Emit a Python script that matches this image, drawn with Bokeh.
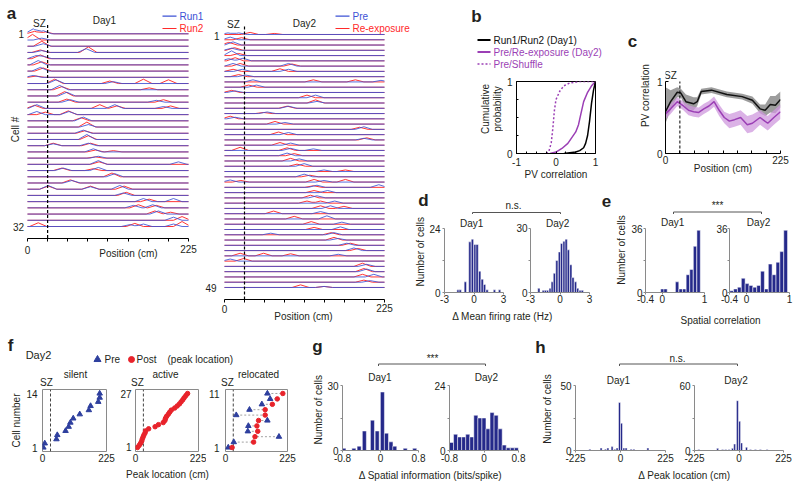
import math
from bokeh.plotting import figure
from bokeh.layouts import row, column
from bokeh.models import Range1d, Label, FixedTicker, LinearAxis, NumeralTickFormatter
from bokeh.embed import file_html
from bokeh.resources import INLINE

FONT = "Liberation Sans"
TXT = "#231f20"
BLUE_T = "#3d52d5"
RED_T = "#ff2a2a"
NAVY = "#25298a"
PURPLE = "#9b3fb5"
PURPLE_BAND = "#cf98de"
GREY_BAND = "#8c8c8c"
AX_GREY = "#8a8a8a"
BLUE_M = "#2e3f9e"
RED_M = "#e8232b"

# ---------------- data ----------------
SZ_POS = 28.125
POS_TICKS = [0, 28.125, 56.25, 84.375, 112.5, 140.625, 168.75, 196.875, 225]
POS_MINOR = [28.125, 56.25, 84.375, 112.5, 140.625, 168.75, 196.875]

# panel a: place-field peaks (position cm, height in row units) per cell
a1_run1 = [
    [(8, 0.8), (22, 0.5)], [(20, 0.3)], [(22, 0.4)], [(20, 0.3), (82, 0.6)],
    [(12, 0.5), (22, 0.4)], [(15, 0.7)], [(18, 0.6)], [(8, 0.3)],
    [(40, 0.6), (120, 0.3)], [(45, 0.7)], [(55, 0.6)], [(60, 0.4), (180, 0.3)],
    [(13, 0.6), (122, 0.6), (190, 0.3)], [(13, 0.5), (58, 0.5)], [(78, 0.6)], [(85, 0.4)],
    [(78, 0.5)], [(83, 0.8)], [(36, 0.3), (85, 0.4)], [(92, 0.5)],
    [(99, 0.3)], [(99, 0.6), (211, 0.4)], [(50, 0.4), (99, 0.5)], [(122, 0.5)],
    [(62, 0.4)], [(29, 0.6), (88, 0.4), (129, 0.6)], [(134, 0.4)], [(162, 0.5), (204, 0.5)],
    [(148, 0.4), (175, 0.5)], [(183, 0.5)], [(204, 0.5)], [(143, 0.3), (162, 0.4), (204, 0.4)],
]
a1_run2 = [
    [(10, 0.4), (25, 0.3)], [(7, 0.9)], [(20, 0.8)], [(18, 0.4), (85, 0.9)],
    [(18, 0.6)], [(20, 0.5)], [(22, 0.5)], [(12, 0.2)],
    [(38, 0.7), (115, 0.4), (162, 0.7), (197, 0.6)], [(48, 0.5), (170, 0.3)], [(52, 0.7)], [(55, 0.5), (190, 0.4)],
    [(10, 0.5), (101, 0.6), (125, 0.4), (200, 0.4)], [(25, 0.4), (57, 0.6)], [(75, 0.5)], [(83, 0.8)],
    [(80, 0.4)], [(85, 0.6)], [(36, 0.4), (88, 0.4)], [(95, 0.3), (120, 0.2)],
    [(95, 0.2)], [(100, 0.4)], [(48, 0.4), (92, 0.3)], [(118, 0.6)],
    [(60, 0.5)], [(29, 0.5), (88, 0.5), (135, 0.5)], [(138, 0.5)], [(170, 0.4)],
    [(155, 0.5), (180, 0.4)], [(178, 0.5), (200, 0.3)], [(216, 0.6)], [(15, 0.6), (150, 0.5), (216, 0.8)],
]
a2_pre = [
    [(5, 0.3), (20, 0.3)], [(8, 0.5)], [(12, 0.6)], [(10, 0.4)], [(10, 0.9)], [(6, 0.4), (26, 0.5)],
    [(12, 0.5), (90, 0.5)], [(25, 0.4), (90, 0.4)], [(30, 0.3)], [(40, 0.4), (220, 0.3)], [(45, 0.4)],
    [(15, 0.3)], [(128, 0.5)], [(130, 0.3)], [(90, 0.4)], [(60, 0.3)], [(15, 0.3)], [(85, 0.3)],
    [(196, 0.5)], [(90, 0.4)], [(196, 0.3)], [(93, 0.4)], [(93, 0.4), (125, 0.3)], [(88, 0.5)],
    [(105, 0.4)], [(112, 0.5)], [(140, 0.3)], [(112, 0.5)], [(8, 0.4), (140, 0.3)], [(130, 0.4), (217, 0.5)],
    [(145, 0.4)], [(130, 0.4)], [(155, 0.4)], [(149, 0.5)], [(135, 0.4)], [(144, 0.6)], [(165, 0.4)],
    [(163, 0.5)], [(65, 0.3), (154, 0.4)], [(160, 0.3)], [(172, 0.4)], [(182, 0.5)], [(160, 0.3)],
    [(8, 0.4)], [(200, 0.4)], [(200, 0.5)], [(210, 0.5)], [(205, 0.3)], [(140, 0.2)],
]
a2_reexp = [
    [(36, 0.4), (70, 0.2)], [(24, 0.4)], [(6, 0.5)], [(14, 0.5)], [(20, 0.4)], [(15, 0.6)],
    [(22, 0.5), (95, 0.4)], [(12, 0.4), (78, 0.5)], [(20, 0.4)], [(125, 0.4), (184, 0.4)], [(34, 0.4)],
    [(10, 0.4)], [(116, 0.5)], [(128, 0.6)], [(88, 0.4)], [(55, 0.2)], [(8, 0.5)], [(71, 0.5)],
    [(190, 0.4)], [(76, 0.5)], [(200, 0.4)], [(78, 0.5)], [(22, 0.6), (88, 0.5)], [(98, 0.4)],
    [(93, 0.5)], [(102, 0.4)], [(170, 0.3)], [(120, 0.3)], [(23, 0.3), (126, 0.5), (170, 0.5)], [(125, 0.3)],
    [(126, 0.4)], [(121, 0.5)], [(116, 0.4), (135, 0.4)], [(135, 0.5), (168, 0.4)], [(69, 0.5)], [(98, 0.5)],
    [(122, 0.5)], [(126, 0.4)], [(150, 0.4)], [(154, 0.5)], [(177, 0.4)], [(188, 0.4)],
    [(22, 0.5), (55, 0.5), (93, 0.4)], [(27, 0.5)], [(194, 0.6)], [(196, 0.6)], [(194, 0.5)], [(196, 0.4)],
    [(107, 0.5), (140, 0.2)],
]

# panel b: cumulative distributions of PV correlation
b_day1_x = [0.2, 0.35, 0.5, 0.6, 0.7, 0.75, 0.8, 0.85, 0.9, 0.95, 1.0]
b_day1_y = [0, 0.01, 0.02, 0.04, 0.08, 0.14, 0.25, 0.45, 0.7, 0.88, 1.0]
b_day2_x = [-0.15, 0.0, 0.15, 0.3, 0.4, 0.5, 0.57, 0.63, 0.7, 0.8, 0.9, 1.0]
b_day2_y = [0, 0.02, 0.07, 0.14, 0.22, 0.3, 0.4, 0.55, 0.72, 0.85, 0.94, 1.0]
b_shuf_x = [-0.25, -0.18, -0.12, -0.08, -0.04, 0.0, 0.1, 0.2, 0.35, 0.6, 1.0]
b_shuf_y = [0, 0.03, 0.15, 0.35, 0.6, 0.75, 0.87, 0.94, 0.98, 1.0, 1.0]

# panel c: PV correlation along the track
c_day1_x = [0, 10, 23, 30, 40, 55, 62, 70, 90, 120, 150, 170, 185, 195, 205, 215, 225]
c_day1_y = [0.58, 0.72, 0.85, 0.84, 0.72, 0.69, 0.72, 0.86, 0.88, 0.82, 0.79, 0.74, 0.62, 0.6, 0.68, 0.67, 0.75]
c_day1_lo = [0.42, 0.6, 0.78, 0.78, 0.62, 0.6, 0.66, 0.82, 0.84, 0.78, 0.75, 0.69, 0.56, 0.52, 0.57, 0.56, 0.64]
c_day1_hi = [0.92, 0.88, 0.92, 0.9, 0.82, 0.78, 0.78, 0.9, 0.92, 0.86, 0.83, 0.79, 0.68, 0.68, 0.8, 0.8, 0.86]
c_day2_x = [0, 10, 23, 35, 45, 55, 65, 75, 85, 95, 105, 115, 125, 135, 147, 160, 170, 185, 200, 212, 225]
c_day2_y = [0.55, 0.62, 0.72, 0.66, 0.6, 0.58, 0.57, 0.62, 0.66, 0.72, 0.6, 0.5, 0.45, 0.47, 0.5, 0.4, 0.42, 0.5, 0.42, 0.5, 0.58]
c_day2_lo = [0.48, 0.55, 0.66, 0.6, 0.53, 0.51, 0.5, 0.55, 0.59, 0.65, 0.52, 0.42, 0.35, 0.37, 0.4, 0.28, 0.3, 0.4, 0.32, 0.4, 0.48]
c_day2_hi = [0.62, 0.69, 0.78, 0.72, 0.67, 0.65, 0.64, 0.69, 0.73, 0.79, 0.68, 0.58, 0.55, 0.57, 0.6, 0.52, 0.54, 0.6, 0.52, 0.6, 0.68]

# panel d: delta mean firing rate histograms
d1_x = [-1.62, -1.4, -0.88, -0.42, -0.16, 0.1, 0.32, 0.58, 0.84, 1.07, 1.33, 2.08, 2.6]
d1_n = [1, 1, 4, 19, 20, 18, 18, 8, 5, 3, 1, 1, 1]
d2_x = [-2.15, -1.7, -1.48, -1.26, -1.0, -0.79, -0.57, -0.32, -0.06, 0.16, 0.41, 0.63, 0.85, 1.1, 1.32, 1.58, 1.8, 2.05, 2.27]
d2_n = [2, 1, 1, 1, 2, 5, 9, 15, 19, 23, 24, 25, 20, 13, 7, 5, 2, 1, 1]

# panel e: spatial correlation histograms
e1_x = [0.0, 0.075, 0.35, 0.435, 0.52, 0.605, 0.69, 0.775, 0.86]
e1_n = [2, 2, 6, 2, 2, 10, 13, 26, 35]
e2_x = [-0.35, -0.26, -0.17, -0.08, 0.01, 0.1, 0.19, 0.28, 0.37, 0.46, 0.55, 0.64, 0.73, 0.82, 0.91]
e2_n = [1, 2, 3, 8, 5, 4, 3, 4, 12, 2, 16, 10, 17, 23, 35]

# panel f: peak locations (cm)
f_silent_pre = [3, 8, 49, 52, 81, 92, 98, 108, 131, 163, 169, 196, 201, 201]
f_active_post = [7, 13, 18, 22, 24, 27, 30, 34, 36, 47, 70, 82, 99, 105, 107, 111, 117, 122, 128,
                 140, 149, 157, 163, 169, 174, 180, 186]
f_reloc_pre = [10, 30, 194, 81, 83, 152, 39, 87, 132, 162, 152]
f_reloc_post = [24, 102, 107, 117, 114, 120, 144, 144, 170, 188, 208]

# panel g: delta spatial information histograms
g1_x = [-0.77, -0.56, -0.45, -0.34, -0.17, -0.07, 0.04, 0.125, 0.22, 0.3, 0.52, 0.72]
g1_n = [1, 1, 2, 9, 14, 9, 27, 8, 4, 2, 1, 1]
g2_x = [-0.753, -0.659, -0.565, -0.471, -0.377, -0.283, -0.189, -0.095, -0.001, 0.093, 0.187,
        0.281, 0.375, 0.469, 0.563, 0.657, 0.751]
g2_n = [3, 6, 5, 5, 6, 5, 13, 12, 12, 8, 14, 13, 8, 2, 1, 1, 1]

# panel h: delta peak location histograms
h1_x = [-153, -97, -75, -63, -42, -28, -17, -5, 5, 17, 28, 53, 67, 137]
h1_n = [1, 2, 1, 2, 3, 1, 2, 37, 21, 2, 2, 1, 1, 2]
h2_x = [-203, -108, -83, -67, -50, -33, -22, -8, 3, 13, 38, 58, 83, 108, 142]
h2_n = [1, 2, 1, 1, 1, 2, 6, 46, 27, 7, 3, 1, 1, 1, 1]


# ---------------- helpers ----------------
class Pan:
    """A figure placed at page pixel box (cx, cy, W, H) whose plot frame is `frame`."""

    def __init__(self, cx, cy, W, H, frame=None, xr=None, yr=None, outline=None):
        if frame is None:
            frame = (cx, cy, cx + W, cy + H)
        if xr is None:
            xr = (frame[0], frame[2])
        if yr is None:
            yr = (frame[3], frame[1])
        self.frame, self.xr, self.yr = frame, xr, yr
        fl, ft, fr, fb = frame
        f = figure(width=W, height=H, output_backend="svg", toolbar_location=None,
                   x_range=Range1d(*xr), y_range=Range1d(*yr),
                   x_axis_location=None, y_axis_location=None,
                   min_border_left=fl - cx, min_border_right=cx + W - fr,
                   min_border_top=ft - cy, min_border_bottom=cy + H - fb)
        f.xgrid.visible = False
        f.ygrid.visible = False
        f.outline_line_color = outline
        f.border_fill_color = "white"
        f.background_fill_color = "white"
        self.f = f

    def X(self, px):
        fl, ft, fr, fb = self.frame
        return self.xr[0] + (px - fl) / (fr - fl) * (self.xr[1] - self.xr[0])

    def Y(self, py):
        fl, ft, fr, fb = self.frame
        return self.yr[0] + (fb - py) / (fb - ft) * (self.yr[1] - self.yr[0])

    def text(self, px, py, s, size=10, color=TXT, align="center", bold=False, angle=0.0):
        self.f.add_layout(Label(x=self.X(px), y=self.Y(py), text=s, text_font=FONT,
                                text_font_size=f"{size}px", text_color=color, text_align=align,
                                text_baseline="middle",
                                text_font_style="bold" if bold else "normal", angle=angle))

    def axis(self, side, major, minor=(), color="black", tin=0, tout=3, standoff=2, line=True,
             bounds=None, title=None, title_standoff=2):
        ax = LinearAxis(ticker=FixedTicker(ticks=list(major), minor_ticks=list(minor)))
        ax.formatter = NumeralTickFormatter(format="0.[00]")
        if bounds is not None:
            ax.bounds = bounds
        ax.axis_line_color = color if line else None
        ax.axis_line_width = 1
        if tin == 0 and tout == 0:
            ax.major_tick_line_color = None
            ax.minor_tick_line_color = None
        else:
            ax.major_tick_line_color = color
            ax.minor_tick_line_color = color
        ax.major_tick_in = tin
        ax.major_tick_out = tout
        ax.minor_tick_in = tin
        ax.minor_tick_out = tout
        ax.major_label_standoff = standoff
        ax.major_label_text_font = FONT
        ax.major_label_text_font_size = "10px"
        ax.major_label_text_color = TXT
        if title:
            ax.axis_label = title
            ax.axis_label_standoff = title_standoff
            ax.axis_label_text_font = FONT
            ax.axis_label_text_font_size = "10px"
            ax.axis_label_text_font_style = "normal"
            ax.axis_label_text_color = TXT
        self.f.add_layout(ax, side)
        return ax


def trace(bumps, r, w=12.0):
    xs = {0.0, 225.0}
    for c, h in bumps:
        xs.update([max(0.0, c - w), float(c), min(225.0, c + w)])
    xs = sorted(xs)
    ys = []
    for x in xs:
        v = 0.0
        for c, h in bumps:
            v = max(v, h * max(0.0, 1 - abs(x - c) / w))
        ys.append(r - v)
    return xs, ys


def traces_panel(P, blue, red):
    bx, by, rx, ry = [], [], [], []
    for i, bumps in enumerate(red):
        x, y = trace(bumps, i + 1)
        rx.append(x); ry.append(y)
    for i, bumps in enumerate(blue):
        x, y = trace(bumps, i + 1)
        bx.append(x); by.append(y)
    P.f.multi_line(xs=rx, ys=ry, line_color=RED_T, line_width=1, line_alpha=0.95)
    P.f.multi_line(xs=bx, ys=by, line_color=BLUE_T, line_width=1, line_alpha=0.85)


def hist(P, centers, counts, width):
    P.f.vbar(x=centers, width=width, top=counts, bottom=0, fill_color=NAVY,
             line_color="white", line_width=0.5)


# ---------------- panel a ----------------
A1 = Pan(0, 0, 204, 242, frame=(0, 0, 204, 238), xr=(-37.73, 247.36), yr=(33.93, -4.357))
traces_panel(A1, a1_run1, a1_run2)
A1.f.line([SZ_POS, SZ_POS], [-0.4, 33.93], line_color="black", line_width=1.2, line_dash="3 2")
A1.axis("below", [], POS_TICKS, tout=3, standoff=0, bounds=(0, 225))
A1.f.line([A1.X(162), A1.X(176)], [A1.Y(15.7), A1.Y(15.7)], line_color=BLUE_T, line_width=1.2)
A1.f.line([A1.X(162), A1.X(176)], [A1.Y(28), A1.Y(28)], line_color=RED_T, line_width=1.2)
A1.text(179, 15.7, "Run1", color=BLUE_T, align="left")
A1.text(179, 28, "Run2", color=RED_T, align="left")
A1.text(11, 12.5, "a", size=17, bold=True)
A1.text(39, 23, "SZ")
A1.text(104, 20, "Day1")
A1.text(23.5, 33.3, "1", align="right")
A1.text(23.5, 226, "32", align="right")
A1.text(15, 129, "Cell #", angle=math.pi / 2)

A1F = Pan(0, 242, 204, 84)
A1F.text(27, 249, "0")
A1F.text(188, 248, "225")
A1F.text(128, 253, "Position (cm)")

A2 = Pan(204, 0, 209, 303, frame=(204, 0, 413, 299), xr=(-28.125, 265.78), yr=(51.28, -5.45))
traces_panel(A2, a2_pre, a2_reexp)
A2.f.line([SZ_POS, SZ_POS], [-0.5, 51.28], line_color="black", line_width=1.2, line_dash="3 2")
A2.axis("below", [], POS_TICKS, tout=3, standoff=0, bounds=(0, 225))
A2.f.line([A2.X(335), A2.X(349)], [A2.Y(15.7), A2.Y(15.7)], line_color=BLUE_T, line_width=1.2)
A2.f.line([A2.X(335), A2.X(349)], [A2.Y(28), A2.Y(28)], line_color=RED_T, line_width=1.2)
A2.text(352, 15.7, "Pre", color=BLUE_T, align="left")
A2.text(352, 28, "Re-exposure", color=RED_T, align="left")
A2.text(233, 24, "SZ")
A2.text(304, 23, "Day2")
A2.text(219, 35, "1", align="right")
A2.text(216, 287, "49", align="right")

A2F = Pan(204, 303, 209, 23)
A2F.text(224, 308, "0")
A2F.text(384, 307, "225")
A2F.text(303, 316, "Position (cm)")

# ---------------- panel b ----------------
Btop = Pan(413, 0, 197, 75)
Btop.text(476, 16, "b", size=17, bold=True)
Btop.f.line([477, 490], [39.5, 39.5], line_color="black", line_width=2)
Btop.f.line([477, 490], [51.5, 51.5], line_color=PURPLE, line_width=2)
Btop.f.line([477, 490], [63.5, 63.5], line_color=PURPLE, line_width=1.6, line_dash="2 2")
Btop.text(493, 39.5, "Run1/Run2 (Day1)", align="left", color="#111111")
Btop.text(493, 51.5, "Pre/Re-exposure (Day2)", align="left", color=PURPLE)
Btop.text(493, 63.5, "Pre/Shuffle", align="left", color=PURPLE)

Bleft = Pan(413, 75, 90, 110)
Bleft.text(485, 117, "Cumulative", angle=math.pi / 2)
Bleft.text(497, 117, "probability", angle=math.pi / 2)

Bb = Pan(503, 75, 107, 110, frame=(515, 81, 595, 153), xr=(-1, 1), yr=(0, 1), outline="black")
Bb.f.line(b_shuf_x, b_shuf_y, line_color=PURPLE, line_width=1.5, line_dash="2 2")
Bb.f.line(b_day2_x, b_day2_y, line_color=PURPLE, line_width=1.5)
Bb.f.line(b_day1_x, b_day1_y, line_color="black", line_width=1.5)
Bb.axis("below", [-1, 0, 1], [-0.75, -0.5, -0.25, 0.25, 0.5, 0.75], tin=2, tout=0, standoff=4,
        title="PV correlation", title_standoff=0)
Bb.axis("left", [0, 1], [0.25, 0.5, 0.75], tin=2, tout=0, standoff=4)

# ---------------- panel c ----------------
Cleft = Pan(610, 0, 42, 185)
Cleft.text(632, 49, "c", size=17, bold=True)
Cleft.text(645, 115, "PV correlation", angle=math.pi / 2)

C = Pan(652, 0, 146, 185, frame=(665, 0, 780, 153), xr=(0, 225), yr=(0, 2.125))
C.f.varea(x=c_day1_x, y1=c_day1_lo, y2=c_day1_hi, fill_color=GREY_BAND, fill_alpha=0.85)
C.f.varea(x=c_day2_x, y1=c_day2_lo, y2=c_day2_hi, fill_color=PURPLE_BAND, fill_alpha=0.75)
C.f.line(c_day1_x, c_day1_y, line_color="#111111", line_width=1.5)
C.f.line(c_day2_x, c_day2_y, line_color=PURPLE, line_width=1.5)
C.f.line([SZ_POS, SZ_POS], [0, 1], line_color="black", line_width=1, line_dash="3 2")
C.axis("below", [0, 225], POS_MINOR, tin=3, tout=0, standoff=2,
       title="Position (cm)", title_standoff=-4)
C.axis("left", [0, 1], tin=3, tout=0, standoff=3, bounds=(0, 1))
C.text(670, 75, "SZ")

# ---------------- panels d / e ----------------
HDE = Pan(413, 185, 385, 29)
HDE.text(423, 200, "d", size=17, bold=True)
HDE.text(513, 205, "n.s.")
HDE.f.line([472, 472, 560, 560], [215, 212, 212, 215], line_color="#555555", line_width=1)
HDE.text(606, 200, "e", size=17, bold=True)
HDE.text(717, 205, "***")
HDE.f.line([673, 673, 761, 761], [215, 211.5, 211.5, 215], line_color="#555555", line_width=1)

Ds = Pan(413, 214, 13, 92)
Ds.text(420, 258, "Number of cells", angle=math.pi / 2)

D1 = Pan(426, 214, 87, 92, frame=(442, 214, 503, 292), xr=(-3, 3), yr=(0, 29.25))
hist(D1, d1_x, d1_n, 0.24)
D1.axis("left", [0, 24], [12], color=AX_GREY, tout=2, standoff=2, bounds=(0, 24))
D1.axis("below", [-3, 0, 3], color=AX_GREY, tout=2, standoff=0)
D1.text(470, 223, "Day1")

D2 = Pan(513, 214, 101, 92, frame=(528, 214, 589, 292), xr=(-3, 3), yr=(0, 36.56))
hist(D2, d2_x, d2_n, 0.23)
D2.axis("left", [0, 30], [15], color=AX_GREY, tout=2, standoff=1, bounds=(0, 30))
D2.axis("below", [-3, 0, 3], color=AX_GREY, tout=2, standoff=0)
D2.text(556, 223, "Day2")

Es = Pan(614, 214, 14, 92)
Es.text(621, 256, "Number of cells", angle=math.pi / 2)

E1 = Pan(628, 214, 85, 92, frame=(643, 214, 704, 292), xr=(-0.4, 1), yr=(0, 43.875))
hist(E1, e1_x, e1_n, 0.08)
E1.axis("left", [0, 36], [18], color=AX_GREY, tout=2, standoff=1, bounds=(0, 36))
E1.axis("below", [-0.4, 0, 1], color=AX_GREY, tout=2, standoff=0)
E1.text(671, 222, "Day1")

E2 = Pan(713, 214, 85, 92, frame=(727, 214, 789, 292), xr=(-0.4, 1), yr=(0, 43.875))
hist(E2, e2_x, e2_n, 0.088)
E2.axis("left", [0, 36], [18], color=AX_GREY, tout=2, standoff=0, bounds=(0, 36))
E2.axis("below", [-0.4, 0, 1], color=AX_GREY, tout=2, standoff=0)
E2.text(757, 222, "Day2")

FDE = Pan(413, 306, 385, 20)
FDE.text(502, 316, "\u0394 Mean firing rate (Hz)")
FDE.text(720, 320, "Spatial correlation")

# ---------------- panel f ----------------
HF = Pan(0, 326, 312, 62)
HF.text(10, 345, "f", size=17, bold=True)
HF.text(38, 354, "Day2", size=11)
HF.f.scatter([97], [359], marker="triangle", size=7, color=BLUE_M)
HF.text(104, 359, "Pre", align="left")
HF.f.scatter([131], [359], marker="circle", size=6, color=RED_M)
HF.text(136, 359, "Post", align="left")
HF.text(167, 359, "(peak location)", align="left")
HF.text(75, 374, "silent")
HF.text(165, 374, "active")
HF.text(258, 374, "relocated")
HF.text(46, 382, "SZ")
HF.text(137, 382, "SZ")
HF.text(227, 382, "SZ")

F1 = Pan(0, 388, 117, 77, frame=(42, 389, 106, 451), xr=(0, 225), yr=(0.04, 14.96), outline=AX_GREY)
F1.f.line([SZ_POS, SZ_POS], [0.04, 14.96], line_color="#444444", line_width=1, line_dash="3 2")
F1.f.scatter(f_silent_pre, list(range(1, len(f_silent_pre) + 1)), marker="triangle", size=5.5, color=BLUE_M)
F1.axis("below", [0, 225], tout=0, standoff=2, line=False)
F1.axis("left", [1, 14], tout=0, standoff=5, line=False, title="Cell number", title_standoff=1)

F2 = Pan(117, 388, 89, 77, frame=(133, 389, 198, 451), xr=(0, 225), yr=(-0.93, 28.93), outline=AX_GREY)
F2.f.line([SZ_POS, SZ_POS], [-0.93, 28.93], line_color="#444444", line_width=1, line_dash="3 2")
F2.f.scatter(f_active_post, list(range(1, len(f_active_post) + 1)), marker="circle", size=4.5, color=RED_M)
F2.axis("below", [0, 225], tout=0, standoff=2, line=False)
F2.axis("left", [1, 27], tout=0, standoff=4, line=False)

F3 = Pan(206, 388, 106, 77, frame=(224, 389, 287, 451), xr=(0, 225), yr=(0.26, 11.74), outline=AX_GREY)
F3.f.line([SZ_POS, SZ_POS], [0.26, 11.74], line_color="#444444", line_width=1, line_dash="3 2")
rows_r = list(range(1, len(f_reloc_pre) + 1))
F3.f.segment(x0=f_reloc_pre, y0=rows_r, x1=f_reloc_post, y1=rows_r, line_color="#8a8a8a",
             line_width=0.8, line_dash="2 2")
F3.f.scatter(f_reloc_pre, rows_r, marker="triangle", size=5.5, color=BLUE_M)
F3.f.scatter(f_reloc_post, rows_r, marker="circle", size=4.5, color=RED_M)
F3.axis("below", [0, 225], tout=0, standoff=2, line=False)
F3.axis("left", [1, 11], tout=0, standoff=6, line=False)

# ---------------- panels g / h ----------------
HGH = Pan(312, 326, 486, 40)
HGH.text(317, 346, "g", size=17, bold=True)
HGH.text(432, 358, "***")
HGH.f.line([378, 378, 485, 485], [367, 363.5, 363.5, 367], line_color="#555555", line_width=1)
HGH.text(540, 347, "h", size=17, bold=True)
HGH.text(677, 358, "n.s.")
HGH.f.line([619, 619, 737, 737], [367, 363.5, 363.5, 367], line_color="#555555", line_width=1)

Gs = Pan(312, 366, 12, 99)
Gs.text(318, 417, "Number of cells", angle=math.pi / 2)

G1 = Pan(324, 366, 107, 99, frame=(341, 366, 418, 450), xr=(-0.8, 0.8), yr=(0, 38.77))
hist(G1, g1_x, g1_n, 0.085)
G1.axis("left", [0, 30], [15], color=AX_GREY, tout=2, standoff=2, bounds=(0, 30))
G1.axis("below", [-0.8, 0, 0.8], color=AX_GREY, tout=2, standoff=1)
G1.text(379, 377, "Day1")

G2 = Pan(431, 366, 109, 99, frame=(447, 366, 518, 450), xr=(-0.8, 0.8), yr=(0, 31.02))
hist(G2, g2_x, g2_n, 0.094)
G2.axis("left", [0, 24], [12], color=AX_GREY, tout=2, standoff=2, bounds=(0, 24))
G2.axis("below", [-0.8, 0, 0.8], color=AX_GREY, tout=2, standoff=1)
G2.text(485, 377, "Day2")

Hs = Pan(540, 366, 15, 99)
Hs.text(547, 416, "Number of cells", angle=math.pi / 2)

H1 = Pan(555, 366, 121, 99, frame=(575, 366, 665, 450), xr=(-225, 225), yr=(0, 64.62))
hist(H1, h1_x, h1_n, 10)
H1.axis("left", [0, 50], [25], color=AX_GREY, tout=2, standoff=2, bounds=(0, 50))
H1.axis("below", [-225, 0, 225], color=AX_GREY, tout=2, standoff=1)
H1.text(618, 380, "Day1")

H2 = Pan(676, 366, 122, 99, frame=(693, 366, 783, 450), xr=(-225, 225), yr=(0, 77.54))
hist(H2, h2_x, h2_n, 10)
H2.axis("left", [0, 60], [30], color=AX_GREY, tout=2, standoff=2, bounds=(0, 60))
H2.axis("below", [-225, 0, 225], color=AX_GREY, tout=2, standoff=1)
H2.text(735, 380, "Day2")

FB = Pan(0, 465, 798, 21)
FB.text(167, 474, "Peak location (cm)")
FB.text(430, 475, "\u0394 Spatial information (bits/spike)")
FB.text(684, 475, "\u0394 Peak location (cm)")

# ---------------- layout ----------------
right = column(
    row(column(Btop.f, row(Bleft.f, Bb.f, spacing=0), spacing=0), Cleft.f, C.f, spacing=0),
    HDE.f,
    row(Ds.f, D1.f, D2.f, Es.f, E1.f, E2.f, spacing=0),
    FDE.f,
    spacing=0,
)
top = row(column(A1.f, A1F.f, spacing=0), column(A2.f, A2F.f, spacing=0), right, spacing=0)
bottom = column(
    row(
        column(HF.f, row(F1.f, F2.f, F3.f, spacing=0), spacing=0),
        column(HGH.f, row(Gs.f, G1.f, G2.f, Hs.f, H1.f, H2.f, spacing=0), spacing=0),
        spacing=0,
    ),
    FB.f,
    spacing=0,
)
page = column(top, bottom, spacing=0)

open("out.html", "w").write(file_html(page, INLINE, title="figure"))
